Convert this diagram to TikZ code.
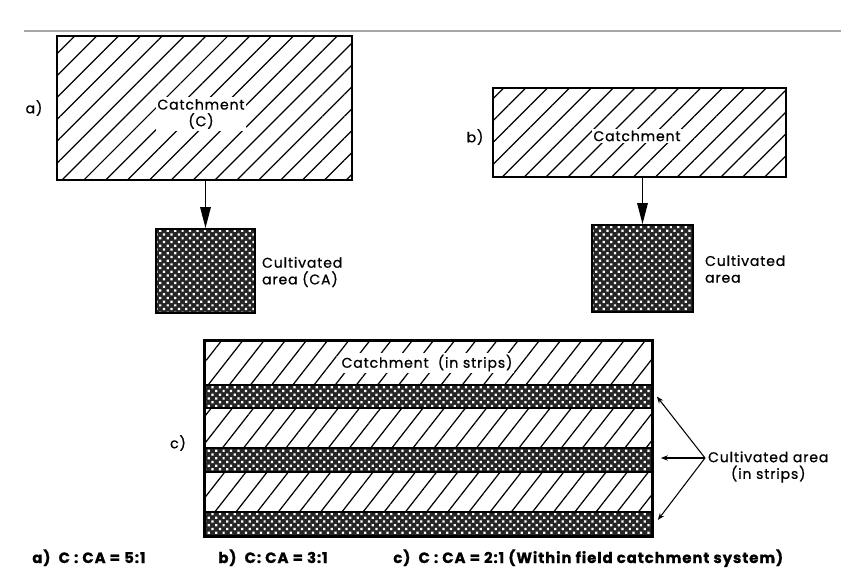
\documentclass[tikz,border=0pt]{standalone}
\usepackage{fontspec}
\setmainfont{Poppins}[LetterSpace=6, FakeBold=0.8]
\usetikzlibrary{arrows.meta,patterns.meta,positioning,calc}

\tikzset{
  catch/.style={draw, line width=1pt, inner sep=0pt,
    pattern={Lines[angle=45,distance=8.8pt,line width=0.7pt]}},
  catchc/.style={catch,
    pattern={Lines[angle=52,distance=9.5pt,line width=0.7pt]}},
  cultiv/.style={draw, line width=1pt, inner sep=0pt,
    preaction={fill=black!85},
    pattern={Dots[angle=45,distance=3pt,radius=0.9pt]}, pattern color=white},
  txt/.style={font=\fontsize{8}{9.5}\selectfont, inner sep=1pt},
  intxt/.style={txt, fill=white},
  captxt/.style={font=\fontsize{8.5}{10}\selectfont\bfseries, inner sep=0pt, anchor=base west},
  flow/.style={-{Triangle[length=12pt,width=6pt]}, line width=0.8pt},
  ptr/.style={-{Stealth[length=4pt,width=3pt]}, line width=0.6pt}
}

\begin{document}
\begin{tikzpicture}[x=0.02cm, y=-0.02cm]
  \useasboundingbox (0,0) rectangle (865,570);

  % Rule at the top
  \draw[gray!70, line width=0.6pt] (24,31) -- (841,31);

  % a) catchment and cultivated area
  \node[catch, minimum width=5.9cm, minimum height=2.88cm] (boxA) at (204.5,108) {};
  \node[cultiv, minimum width=1.98cm, minimum height=1.68cm] (cultA) at (205.5,271) {};
  \node[txt] (labA) at (34,108) {a)};
  \node[intxt, align=center] (catchAtxt) at (201,114) {Catchment\\(C)};
  \node[txt, anchor=west, align=left] (cultAtxt) at (260,272) {Cultivated\\area (CA)};
  \draw[flow] (cultA.north |- boxA.south) -- (cultA.north);

  % b) catchment and cultivated area
  \node[catch, minimum width=5.86cm, minimum height=1.78cm] (boxB) at (639.5,132.5) {};
  \node[cultiv, minimum width=2.02cm, minimum height=1.74cm] (cultB) at (642.5,268.5) {};
  \node[txt] (labB) at (475,137) {b)};
  \node[intxt] (catchBtxt) at (637,136) {Catchment};
  \node[txt, anchor=west, align=left] (cultBtxt) at (703,269) {Cultivated\\area};
  \draw[flow] (cultB.north |- boxB.south) -- (cultB.north);

  % c) strips
  \node[catchc, minimum width=8.94cm, minimum height=0.88cm] (s1) at (428.5,363) {};
  \node[cultiv, minimum width=8.94cm, minimum height=0.46cm] (c1) at (428.5,396.5) {};
  \node[catchc, minimum width=8.94cm, minimum height=0.80cm] (s2) at (428.5,428) {};
  \node[cultiv, minimum width=8.94cm, minimum height=0.48cm] (c2) at (428.5,460) {};
  \node[catchc, minimum width=8.94cm, minimum height=0.80cm] (s3) at (428.5,492) {};
  \node[cultiv, minimum width=8.94cm, minimum height=0.48cm] (c3) at (428.5,524) {};
  \draw[line width=1.2pt] (s1.north west) rectangle (c3.south east);
  \node[txt] (labC) at (178,443) {c)};
  \node[intxt] (catchCtxt) at (427,363) {Catchment\ \ (in strips)};
  \node[txt, anchor=west, align=center] (cultCtxt) at (706,467) {Cultivated area\\(in strips)};
  \coordinate (meet) at (705,458);
  \draw[ptr] (meet) -- ($(c1.east)+(4,0)$);
  \draw[ptr] (meet) -- ($(c2.east)+(8,-2)$);
  \draw[ptr] (meet) -- ($(c3.east)+(5,-4)$);

  % Caption
  \node[captxt] (capA) at (32,563) {a)\ \ C : CA = 5:1};
  \node[captxt] (capB) at (218,563) {b)\ \ C: CA = 3:1};
  \node[captxt] (capC) at (393,563) {c)\ \ C : CA = 2:1 (Within field catchment system)};
\end{tikzpicture}
\end{document}
